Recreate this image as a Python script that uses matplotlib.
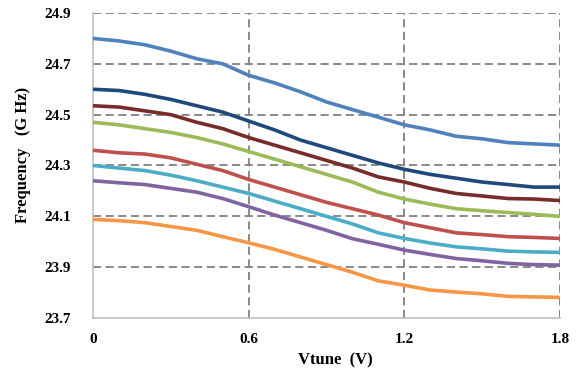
import matplotlib
matplotlib.use("Agg")
import matplotlib.pyplot as plt
import numpy as np

vtune = [0.0, 0.1, 0.2, 0.3, 0.4, 0.5, 0.6, 0.7, 0.8, 0.9, 1.0,
         1.1, 1.2, 1.3, 1.4, 1.5, 1.6, 1.7, 1.8]

s_blue = [24.80, 24.79, 24.775, 24.75, 24.72, 24.70, 24.655, 24.625, 24.59, 24.55,
          24.52, 24.49, 24.46, 24.44, 24.415, 24.405, 24.39, 24.385, 24.38]
s_navy = [24.60, 24.595, 24.58, 24.56, 24.535, 24.51, 24.475, 24.44, 24.40, 24.37,
          24.34, 24.31, 24.285, 24.265, 24.25, 24.235, 24.225, 24.215, 24.215]
s_darkred = [24.535, 24.53, 24.515, 24.50, 24.47, 24.445, 24.41, 24.38, 24.35, 24.32,
             24.29, 24.255, 24.235, 24.21, 24.19, 24.18, 24.17, 24.168, 24.162]
s_green = [24.47, 24.46, 24.445, 24.43, 24.41, 24.385, 24.355, 24.325, 24.295, 24.265,
           24.235, 24.195, 24.168, 24.148, 24.13, 24.122, 24.115, 24.108, 24.10]
s_red = [24.36, 24.35, 24.345, 24.33, 24.305, 24.28, 24.245, 24.215, 24.185, 24.155,
         24.13, 24.105, 24.075, 24.055, 24.035, 24.028, 24.02, 24.017, 24.013]
s_cyan = [24.30, 24.29, 24.28, 24.262, 24.24, 24.215, 24.19, 24.16, 24.13, 24.10,
          24.07, 24.035, 24.013, 23.995, 23.98, 23.972, 23.963, 23.96, 23.958]
s_purple = [24.24, 24.232, 24.225, 24.21, 24.195, 24.17, 24.138, 24.105, 24.075, 24.045,
            24.012, 23.99, 23.967, 23.95, 23.934, 23.925, 23.915, 23.91, 23.908]
s_orange = [24.088, 24.083, 24.075, 24.06, 24.045, 24.02, 23.996, 23.97, 23.94, 23.91,
            23.88, 23.846, 23.829, 23.81, 23.802, 23.795, 23.785, 23.783, 23.781]

series = [s_blue, s_navy, s_darkred, s_green, s_red, s_cyan, s_purple, s_orange]
colors = ["#4F81BD", "#1F497D", "#772C2A", "#9BBB59", "#C0504D", "#4BACC6", "#8064A2", "#F79646"]

x_ticks = [0, 0.6, 1.2, 1.8]
x_ticklabels = ["0", "0.6", "1.2", "1.8"]
y_ticks = [23.7, 23.9, 24.1, 24.3, 24.5, 24.7, 24.9]
y_ticklabels = ["23.7", "23.9", "24.1", "24.3", "24.5", "24.7", "24.9"]

plt.rcParams['font.family'] = ['Liberation Serif', 'DejaVu Serif']
plt.rcParams['font.weight'] = 'bold'

fig = plt.figure(figsize=(5.83, 3.86), dpi=100)
ax = fig.add_axes([0.1595, 0.1762, 0.801, 0.7901])

for ys, c in zip(series, colors):
    ax.plot(vtune, ys, color=c, lw=2.6, solid_joinstyle='round', solid_capstyle='butt', zorder=3)

ax.set_xlim(0, 1.8)
ax.set_ylim(23.7, 24.9)
ax.set_xticks(x_ticks)
ax.set_xticklabels(x_ticklabels, fontsize=11, fontweight='bold')
ax.set_yticks(y_ticks)
ax.set_yticklabels(y_ticklabels, fontsize=11, fontweight='bold')
ax.tick_params(axis='both', length=0)
ax.tick_params(axis='y', pad=16)
ax.tick_params(axis='x', pad=11)

for yv in y_ticks[1:]:
    ax.axhline(yv, color='#808080', lw=1.3, ls=(0, (4.5, 2.5)), zorder=1)
for xv in x_ticks[1:]:
    ax.axvline(xv, color='#808080', lw=1.3, ls=(0, (4.5, 2.5)), zorder=1)

for side in ['top', 'right']:
    ax.spines[side].set_visible(False)
for side in ['left', 'bottom']:
    ax.spines[side].set_color('#BFBFBF')
    ax.spines[side].set_linewidth(1.2)

ax.set_xlabel("Vtune  (V)", fontsize=12, fontweight='bold')
ax.set_ylabel("Frequency   (G Hz)", fontsize=12, fontweight='bold')
ax.xaxis.set_label_coords(0.518, -0.112)
ax.yaxis.set_label_coords(-0.132, 0.534)

fig.savefig("out.png", dpi=100)
